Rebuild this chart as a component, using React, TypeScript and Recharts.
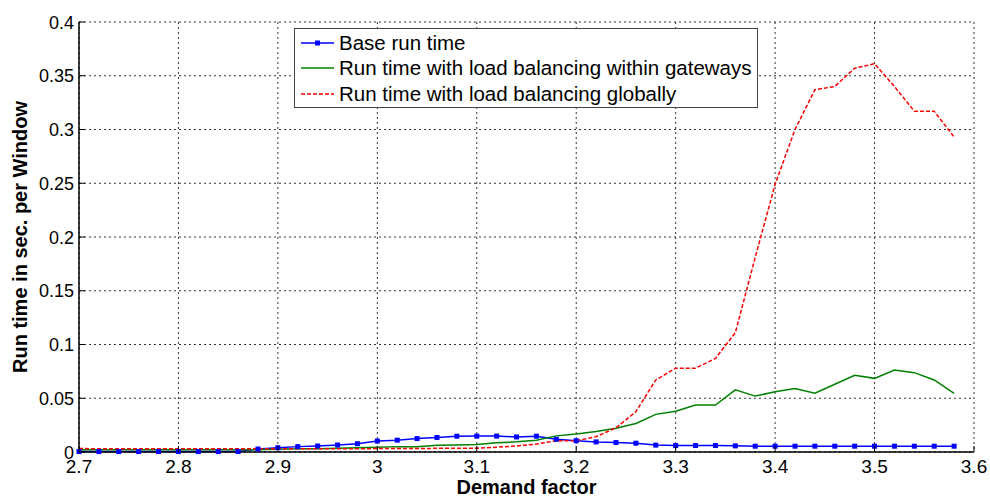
import { LineChart, Line, XAxis, YAxis, CartesianGrid, Legend, Label } from 'recharts';

// demand factor sampled every 0.02
const demand = [
  2.7, 2.72, 2.74, 2.76, 2.78, 2.8, 2.82, 2.84, 2.86, 2.88,
  2.9, 2.92, 2.94, 2.96, 2.98, 3.0, 3.02, 3.04, 3.06, 3.08,
  3.1, 3.12, 3.14, 3.16, 3.18, 3.2, 3.22, 3.24, 3.26, 3.28,
  3.3, 3.32, 3.34, 3.36, 3.38, 3.4, 3.42, 3.44, 3.46, 3.48,
  3.5, 3.52, 3.54, 3.56, 3.58,
];

const baseRun = [
  0.0004, 0.0004, 0.0004, 0.0004, 0.0004, 0.0004, 0.0004, 0.0004, 0.0005, 0.0028,
  0.004, 0.005, 0.0056, 0.0065, 0.0077, 0.0102, 0.011, 0.0125, 0.0135, 0.0147,
  0.0148, 0.0148, 0.014, 0.0147, 0.0118, 0.0105, 0.0094, 0.0088, 0.0082, 0.0064,
  0.006, 0.006, 0.006, 0.0057, 0.0054, 0.0054, 0.0054, 0.0054, 0.0054, 0.0054,
  0.0054, 0.0054, 0.0054, 0.0054, 0.0054,
];

const gatewayRun = [
  0.002, 0.002, 0.002, 0.002, 0.002, 0.002, 0.002, 0.002, 0.002, 0.002,
  0.0025, 0.003, 0.003, 0.0035, 0.004, 0.0045, 0.005, 0.005, 0.0062, 0.0065,
  0.007, 0.0085, 0.0095, 0.011, 0.015, 0.0167, 0.019, 0.022, 0.0265, 0.035,
  0.038, 0.0437, 0.0437, 0.0578, 0.052, 0.056, 0.059, 0.0546, 0.063, 0.0713,
  0.0685, 0.0763, 0.0738, 0.067, 0.0546,
];

const globalRun = [
  0.0032, 0.003, 0.003, 0.003, 0.003, 0.003, 0.003, 0.003, 0.003, 0.003,
  0.003, 0.003, 0.003, 0.003, 0.003, 0.0032, 0.0033, 0.0033, 0.0034, 0.0034,
  0.0036, 0.0044, 0.0056, 0.0074, 0.0105, 0.0105, 0.0143, 0.0225, 0.0375, 0.067,
  0.078, 0.078, 0.087, 0.111, 0.181, 0.249, 0.3, 0.337, 0.34, 0.357,
  0.3612, 0.34, 0.317, 0.317, 0.293,
];

const xTicks = [2.7, 2.8, 2.9, 3.0, 3.1, 3.2, 3.3, 3.4, 3.5, 3.6];
const yTicks = [0, 0.05, 0.1, 0.15, 0.2, 0.25, 0.3, 0.35, 0.4];

const seriesNames = [
  'Base run time',
  'Run time with load balancing within gateways',
  'Run time with load balancing globally',
];

const data = demand.map((d, i) => ({
  x: d,
  base: baseRun[i],
  gateway: gatewayRun[i],
  global: globalRun[i],
}));

const FONT = '"Liberation Sans", Arial, sans-serif';
const BLUE = '#0000ff';
const GREEN = '#008000';
const RED = '#ff0000';

// MATLAB-style ticks: short marks pointing into the plot
const XTick = (props: any) => {
  const { x, y, payload } = props;
  return (
    <g>
      <line x1={x} y1={y} x2={x} y2={y - 6} stroke="#000" strokeWidth={1} />
      <text x={x} y={y + 21} textAnchor="middle" fontSize={19} fontFamily={FONT} fill="#000">
        {String(payload.value)}
      </text>
    </g>
  );
};

const YTick = (props: any) => {
  const { x, y, payload } = props;
  return (
    <g>
      <line x1={x} y1={y} x2={x + 6} y2={y} stroke="#000" strokeWidth={1} />
      <text x={x - 5} y={y + 6.5} textAnchor="end" fontSize={18} fontFamily={FONT} fill="#000">
        {String(payload.value)}
      </text>
    </g>
  );
};

const SquareDot = (props: any) => {
  const { cx, cy, index } = props;
  return <rect key={`sq-${index}`} x={cx - 2.5} y={cy - 2.5} width={5} height={5} fill={BLUE} />;
};

const LegendBox = () => {
  const swatches = [
    { color: BLUE, dash: undefined, marker: true },
    { color: GREEN, dash: undefined, marker: false },
    { color: RED, dash: '4 2', marker: false },
  ];
  return (
    <div
      style={{
        width: 462,
        height: 77,
        border: '1px solid #444',
        background: '#fff',
        fontFamily: FONT,
        fontSize: 20.5,
        color: '#000',
        paddingTop: 1,
        boxSizing: 'content-box',
      }}
    >
      {seriesNames.map((name, i) => (
        <div key={name} style={{ display: 'flex', alignItems: 'center', height: 25.5, whiteSpace: 'nowrap' }}>
          <svg width={44} height={10} style={{ flex: 'none' }}>
            <line
              x1={6}
              y1={5}
              x2={39}
              y2={5}
              stroke={swatches[i].color}
              strokeWidth={1.5}
              strokeDasharray={swatches[i].dash}
            />
            {swatches[i].marker && <rect x={20} y={2.5} width={5} height={5} fill={BLUE} />}
          </svg>
          <span>{name}</span>
        </div>
      ))}
    </div>
  );
};

export default function App() {
  return (
    <div style={{ position: 'absolute', left: 0, top: 0, width: 990, height: 497, background: '#fff' }}>
      <LineChart width={990} height={497} data={data} margin={{ top: 22, right: 16, left: 19, bottom: 0 }}>
        <CartesianGrid stroke="#333" strokeDasharray="2 3" strokeWidth={1} />
        <XAxis
          dataKey="x"
          type="number"
          domain={[2.7, 3.6]}
          ticks={xTicks}
          height={45}
          tickSize={0}
          tickMargin={0}
          tickLine={false}
          tick={<XTick />}
          axisLine={{ stroke: '#000', strokeWidth: 1.5 }}
          interval={0}
        >
          <Label
            value="Demand factor"
            position="insideBottom"
            offset={3}
            style={{ fontFamily: FONT, fontSize: 20, fontWeight: 'bold', fill: '#000' }}
          />
        </XAxis>
        <YAxis
          type="number"
          domain={[0, 0.4]}
          ticks={yTicks}
          width={60}
          tickSize={0}
          tickMargin={0}
          tickLine={false}
          tick={<YTick />}
          axisLine={{ stroke: '#000', strokeWidth: 1.5 }}
          interval={0}
        >
          <Label
            content={(p: any) => {
              const vb = p.viewBox || { x: 19, y: 22, width: 60, height: 430 };
              const cx = vb.x + 8;
              const cy = vb.y + vb.height / 2;
              return (
                <text
                  x={cx}
                  y={cy}
                  transform={`rotate(-90 ${cx} ${cy})`}
                  textAnchor="middle"
                  fontFamily={FONT}
                  fontSize={20}
                  fontWeight="bold"
                  fill="#000"
                >
                  Run time in sec. per Window
                </text>
              );
            }}
          />
        </YAxis>
        <Legend
          layout="vertical"
          align="center"
          verticalAlign="middle"
          content={<LegendBox />}
          wrapperStyle={{ left: 294, top: 28, width: 464, height: 79 }}
        />
        <Line
          dataKey="base"
          name={seriesNames[0]}
          stroke={BLUE}
          strokeWidth={1.5}
          dot={<SquareDot />}
          activeDot={false}
          isAnimationActive={false}
        />
        <Line
          dataKey="gateway"
          name={seriesNames[1]}
          stroke={GREEN}
          strokeWidth={1.5}
          dot={false}
          activeDot={false}
          isAnimationActive={false}
        />
        <Line
          dataKey="global"
          name={seriesNames[2]}
          stroke={RED}
          strokeWidth={1.5}
          strokeDasharray="4 2"
          dot={false}
          activeDot={false}
          isAnimationActive={false}
        />
      </LineChart>
    </div>
  );
}
